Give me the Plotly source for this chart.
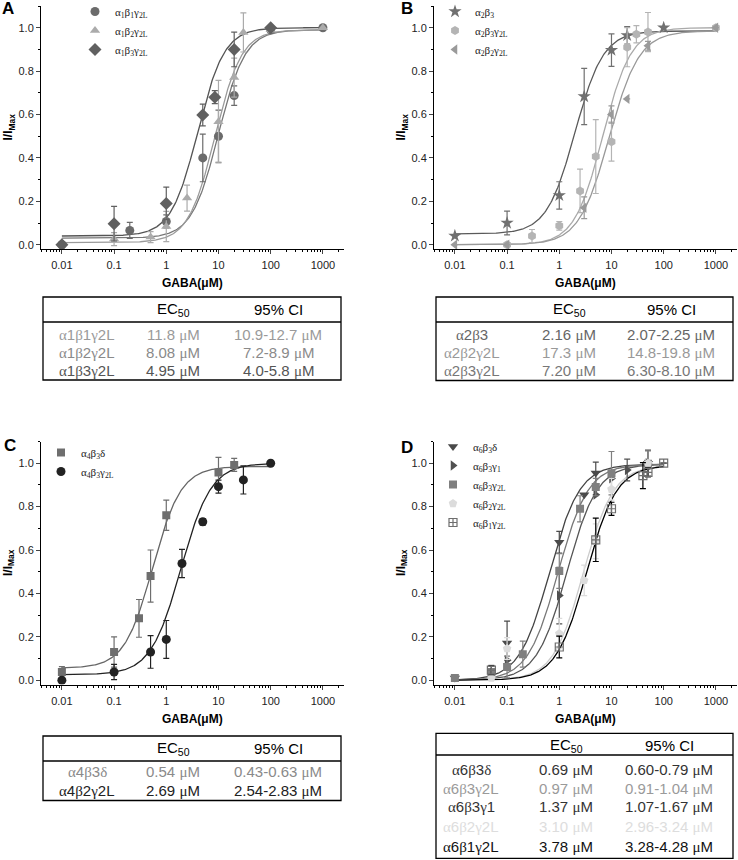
import numpy as np
import plotly.graph_objects as go

W, H = 738, 860

# ---- panel A : alpha1 receptors ----
a1b1_x = [0.01, 0.2, 1, 5, 10, 20, 100, 1000]
a1b1_y = [0.0, 0.066, 0.107, 0.40, 0.50, 0.687, 0.99, 1.0]
a1b1_e = [0.0, 0.037, 0.03, 0.11, 0.12, 0.045, 0.01, 0.0]
a1b2_x = [0.1, 0.5, 1, 2.5, 10, 20, 30, 100, 1000]
a1b2_y = [0.026, 0.035, 0.084, 0.215, 0.567, 0.77, 0.978, 0.99, 1.0]
a1b2_e = [0.03, 0.025, 0.07, 0.06, 0.19, 0.09, 0.09, 0.01, 0.0]
a1b3_x = [0.01, 0.1, 1, 5, 8.5, 20, 100]
a1b3_y = [0.0, 0.097, 0.19, 0.598, 0.68, 0.90, 1.0]
a1b3_e = [0.0, 0.08, 0.075, 0.05, 0.03, 0.08, 0.0]

# ---- panel B : alpha2 receptors ----
a2b3_x = [0.01, 0.1, 1, 3, 10, 20, 100]
a2b3_y = [0.041, 0.10, 0.227, 0.683, 0.897, 0.965, 1.0]
a2b3_e = [0.0, 0.055, 0.063, 0.13, 0.075, 0.04, 0.0]
a2b3g_x = [0.1, 0.3, 1, 2.5, 5, 10, 20, 30, 50, 1000]
a2b3g_y = [0.0, 0.04, 0.087, 0.248, 0.406, 0.475, 0.91, 0.97, 0.98, 1.0]
a2b3g_e = [0.0, 0.03, 0.02, 0.1, 0.17, 0.09, 0.09, 0.04, 0.09, 0.0]
a2b2g_x = [0.01, 0.1, 3, 10, 20, 50, 1000]
a2b2g_y = [0.0, 0.0, 0.17, 0.60, 0.672, 0.917, 1.0]
a2b2g_e = [0.0, 0.0, 0.05, 0.04, 0.0, 0.02, 0.0]

# ---- panel C : alpha4 receptors ----
a4d_x = [0.01, 0.1, 0.3, 0.5, 1, 10, 20]
a4d_y = [0.038, 0.13, 0.285, 0.48, 0.76, 0.957, 0.992]
a4d_e = [0.025, 0.07, 0.087, 0.12, 0.07, 0.07, 0.03]
a4g_x = [0.01, 0.1, 0.5, 1, 2, 5, 10, 30, 100]
a4g_y = [0.0, 0.038, 0.13, 0.188, 0.538, 0.73, 0.892, 0.923, 1.0]
a4g_e = [0.0, 0.035, 0.075, 0.087, 0.065, 0.015, 0.03, 0.065, 0.0]

# ---- panel D : alpha6 receptors ----
a6d_x = [0.01, 0.1, 1, 3, 5, 50]
a6d_y = [0.01, 0.172, 0.636, 0.855, 0.955, 1.0]
a6d_e = [0.0, 0.1, 0.05, 0.0, 0.05, 0.06]
a6g1_x = [0.1, 1, 5, 10, 20, 50]
a6g1_y = [0.092, 0.39, 0.855, 0.93, 0.969, 1.0]
a6g1_e = [0.0, 0.13, 0.0, 0.0, 0.05, 0.0]
a6g2_x = [0.01, 0.05, 0.1, 0.2, 1, 2.5, 5, 10, 50]
a6g2_y = [0.01, 0.038, 0.061, 0.12, 0.503, 0.79, 0.89, 0.954, 0.997]
a6g2_e = [0.0, 0.03, 0.05, 0.06, 0.08, 0.06, 0.04, 0.1, 0.06]
a6b2_x = [0.05, 0.1, 1, 3, 5, 10, 50]
a6b2_y = [0.01, 0.146, 0.215, 0.46, 0.64, 0.88, 1.0]
a6b2_e = [0.0, 0.05, 0.07, 0.07, 0.08, 0.05, 0.0]
a6b1_x = [0.05, 1, 5, 10, 40, 50, 100]
a6b1_y = [0.046, 0.153, 0.647, 0.79, 0.943, 0.958, 1.0]
a6b1_e = [0.02, 0.05, 0.1, 0.03, 0.06, 0.02, 0.0]

# fitted Hill curves: bottom, top, EC50, slope
fit_a = [(0.03, 0.99, 10.0, 1.7), (0.01, 0.99, 8.6, 1.7), (0.04, 1.0, 4.0, 1.7)]
fit_b = [(0.05, 0.985, 2.0, 1.6), (0.0, 1.0, 6.8, 1.6), (0.0, 0.985, 9.0, 1.5)]
fit_c = [(0.055, 0.985, 0.55, 1.6), (0.025, 1.0, 1.9, 1.5)]
fit_d = [(0.0, 0.995, 0.65, 1.5), (0.0, 0.995, 1.4, 1.5), (0.0, 0.995, 0.95, 1.5),
         (0.0, 0.99, 2.9, 1.5), (0.0, 0.99, 3.3, 1.5)]

# tables
tab_a_names = ["α1β1γ2L", "α1β2γ2L", "α1β3γ2L"]
tab_a_ec50 = ["11.8 μM", "8.08 μM", "4.95 μM"]
tab_a_ci = ["10.9-12.7 μM", "7.2-8.9 μM", "4.0-5.8 μM"]
tab_b_names = ["α2β3", "α2β2γ2L", "α2β3γ2L"]
tab_b_ec50 = ["2.16 μM", "17.3 μM", "7.20 μM"]
tab_b_ci = ["2.07-2.25 μM", "14.8-19.8 μM", "6.30-8.10 μM"]
tab_c_names = ["α4β3δ", "α4β2γ2L"]
tab_c_ec50 = ["0.54 μM", "2.69 μM"]
tab_c_ci = ["0.43-0.63 μM", "2.54-2.83 μM"]
tab_d_names = ["α6β3δ", "α6β3γ2L", "α6β3γ1", "α6β2γ2L", "α6β1γ2L"]
tab_d_ec50 = ["0.69 μM", "0.97 μM", "1.37 μM", "3.10 μM", "3.78 μM"]
tab_d_ci = ["0.60-0.79 μM", "0.91-1.04 μM", "1.07-1.67 μM", "2.96-3.24 μM", "3.28-4.28 μM"]

x_ticks = [0.01, 0.1, 1, 10, 100, 1000]
x_tick_text = ["0.01", "0.1", "1", "10", "100", "1000"]


def px(x):
    return x / W


def py(y):
    return 1 - y / H


def hill(x, bottom, top, ec50, n):
    return bottom + (top - bottom) / (1 + (ec50 / x) ** n)


def greek(s):
    # greek letters drawn in a serif face like the original
    out = ""
    for ch in s:
        if ch in "αβγδμ":
            out += '<span style="font-family:Liberation Serif">' + ch + "</span>"
        else:
            out += ch
    return out


def note(text, x, y, size, color="black", family="Arial", xanchor="center", angle=0):
    return dict(text=text, x=px(x), y=py(y), xref="paper", yref="paper",
                showarrow=False, xanchor=xanchor, yanchor="middle", textangle=angle,
                font=dict(family=family, size=size, color=color))


panels = [
    dict(ax="", letter="A", letter_xy=(0, 9), left=41, top=6, curve_max=1000, legend_xy=(75, -3),
         series=[
             (a1b1_x, a1b1_y, a1b1_e, "circle", 9, "#6b6b6b", "#777777", "α<sub>1</sub>β<sub>1</sub>γ<sub>2L</sub>", fit_a[0]),
             (a1b2_x, a1b2_y, a1b2_e, "triangle-up", 9, "#ababab", "#9a9a9a", "α<sub>1</sub>β<sub>2</sub>γ<sub>2L</sub>", fit_a[1]),
             (a1b3_x, a1b3_y, a1b3_e, "diamond", 10, "#606060", "#555555", "α<sub>1</sub>β<sub>3</sub>γ<sub>2L</sub>", fit_a[2]),
         ],
         table=dict(left=43, right=341, top=297, hline=322, bottom=380, head_y=309,
                    rows_y=[334, 352.5, 370.5], cols=[87, 173, 278],
                    colors=["#9a9a9a", "#8a8a8a", "#555555"],
                    cells=(tab_a_names, tab_a_ec50, tab_a_ci))),
    dict(ax="2", letter="B", letter_xy=(399, 9), left=434, top=6, curve_max=1000, legend_xy=(435, -3),
         series=[
             (a2b3_x, a2b3_y, a2b3_e, "star", 10, "#707070", "#5a5a5a", "α<sub>2</sub>β<sub>3</sub>", fit_b[0]),
             (a2b3g_x, a2b3g_y, a2b3g_e, "hexagon", 9, "#b4b4b4", "#aaaaaa", "α<sub>2</sub>β<sub>3</sub>γ<sub>2L</sub>", fit_b[1]),
             (a2b2g_x, a2b2g_y, a2b2g_e, "triangle-left", 9, "#9a9a9a", "#999999", "α<sub>2</sub>β<sub>2</sub>γ<sub>2L</sub>", fit_b[2]),
         ],
         table=dict(left=436, right=733, top=297, hline=322, bottom=380.5, head_y=309,
                    rows_y=[334, 352.5, 370.5], cols=[472, 569, 671],
                    colors=["#666666", "#999999", "#777777"],
                    cells=(tab_b_names, tab_b_ec50, tab_b_ci))),
    dict(ax="3", letter="C", letter_xy=(2, 445), left=41, top=441.5, curve_max=100, legend_xy=(41, 438),
         series=[
             (a4d_x, a4d_y, a4d_e, "square", 8, "#6e6e6e", "#666666", "α<sub>4</sub>β<sub>3</sub>δ", fit_c[0]),
             (a4g_x, a4g_y, a4g_e, "circle", 9, "#222222", "#222222", "α<sub>4</sub>β<sub>3</sub>γ<sub>2L</sub>", fit_c[1]),
         ],
         table=dict(left=43, right=341, top=736, hline=761, bottom=800.5, head_y=748,
                    rows_y=[771.7, 790.7], cols=[87, 173, 278],
                    colors=["#8a8a8a", "#222222"],
                    cells=(tab_c_names, tab_c_ec50, tab_c_ci))),
    dict(ax="4", letter="D", letter_xy=(399, 447), left=434, top=441.5, curve_max=100, legend_xy=(433, 432),
         series=[
             (a6d_x, a6d_y, a6d_e, "triangle-down", 9, "#4a4a4a", "#444444", "α<sub>6</sub>β<sub>3</sub>δ", fit_d[0]),
             (a6g1_x, a6g1_y, a6g1_e, "triangle-right", 9, "#505050", "#555555", "α<sub>6</sub>β<sub>3</sub>γ<sub>1</sub>", fit_d[1]),
             (a6g2_x, a6g2_y, a6g2_e, "square", 8, "#7f7f7f", "#777777", "α<sub>6</sub>β<sub>3</sub>γ<sub>2L</sub>", fit_d[2]),
             (a6b2_x, a6b2_y, a6b2_e, "pentagon", 9, "#dcdcdc", "#cccccc", "α<sub>6</sub>β<sub>2</sub>γ<sub>2L</sub>", fit_d[3]),
             (a6b1_x, a6b1_y, a6b1_e, "square-cross-open", 8, "#6e6e6e", "#000000", "α<sub>6</sub>β<sub>1</sub>γ<sub>2L</sub>", fit_d[4]),
         ],
         table=dict(left=436, right=733, top=733.3, hline=755, bottom=858.3, head_y=745,
                    rows_y=[769.3, 788.3, 806.7, 826, 846], cols=[471, 566, 669],
                    colors=["#333333", "#9a9a9a", "#333333", "#dddddd", "#111111"],
                    cells=(tab_d_names, tab_d_ec50, tab_d_ci))),
]

X_RANGE = [-2.4, 3.4]
Y_RANGE = [-0.02, 1.1]
DEC = 52.2       # px per decade
UNIT = 217.0     # px per 1.0 on y

fig = go.Figure()
annotations = []
shapes = []
layout = {}

for k, p in enumerate(panels):
    ax = p["ax"]
    xname, yname = "x" + ax, "y" + ax
    leg = "legend" + ax
    left = p["left"]
    right = left + DEC * (X_RANGE[1] - X_RANGE[0])
    top = p["top"]
    bottom = top + UNIT * (Y_RANGE[1] - Y_RANGE[0])

    xc = np.logspace(-2, np.log10(p["curve_max"]), 300)
    for sx, sy, se, sym, size, col, lcol, name, prm in p["series"]:
        fig.add_trace(go.Scatter(x=xc, y=hill(xc, *prm), mode="lines",
                                 line=dict(color=lcol, width=1.3),
                                 xaxis=xname, yaxis=yname, showlegend=False,
                                 hoverinfo="skip"))
    for sx, sy, se, sym, size, col, lcol, name, prm in p["series"]:
        ecol = "#000000" if sym == "square-cross-open" else col
        fig.add_trace(go.Scatter(x=sx, y=sy, mode="markers", name=name,
                                 marker=dict(symbol=sym, size=size, color=col,
                                             line=dict(width=1.2 if sym.endswith("open") else 0, color=col)),
                                 error_y=dict(type="data", array=se, color=ecol,
                                              thickness=1.2, width=3),
                                 xaxis=xname, yaxis=yname, legend=leg))

    tick_font = dict(family="Arial", size=11, color="#222222")
    layout["xaxis" + ax] = dict(
        type="log", range=X_RANGE, domain=[left / W, right / W], anchor=yname,
        automargin=False, ticklabelstandoff=2,
        tickvals=x_ticks, ticktext=x_tick_text, ticks="outside", ticklen=4,
        tickwidth=1, showline=True, linecolor="black", linewidth=1,
        showgrid=False, zeroline=False, tickfont=tick_font,
        minor=dict(ticks="outside", ticklen=2, dtick="D1", tickcolor="black",
                   showgrid=False))
    layout["yaxis" + ax] = dict(
        range=Y_RANGE, domain=[py(bottom), py(top)], anchor=xname,
        automargin=False,
        tickvals=[0, 0.2, 0.4, 0.6, 0.8, 1.0], tickformat=".1f",
        ticks="outside", ticklen=4, tickwidth=1, showline=True,
        linecolor="black", linewidth=1, showgrid=False, zeroline=False,
        tickfont=tick_font,
        minor=dict(ticks="outside", ticklen=2, dtick=0.1, tickcolor="black",
                   showgrid=False))
    lx, ly = p["legend_xy"]
    layout[leg] = dict(x=px(lx), y=py(ly), xanchor="left", yanchor="top",
                       bgcolor="rgba(0,0,0,0)", itemwidth=30, tracegroupgap=0,
                       font=dict(family="Liberation Serif", size=11, color="#222222"))

    # panel letter and axis titles
    lx, ly = p["letter_xy"]
    annotations.append(note("<b>" + p["letter"] + "</b>", lx, ly, 17, xanchor="left"))
    annotations.append(note("<b>I/I<sub>Max</sub></b>", left - 32, (top + bottom) / 2, 12, angle=-90))
    annotations.append(note("<b>GABA(μM)</b>", (left + right) / 2, bottom + 34, 12))

    # table under each plot
    t = p["table"]
    shapes.append(dict(type="rect", xref="paper", yref="paper",
                       x0=px(t["left"]), x1=px(t["right"]), y0=py(t["bottom"]), y1=py(t["top"]),
                       line=dict(color="black", width=1.3)))
    shapes.append(dict(type="line", xref="paper", yref="paper",
                       x0=px(t["left"]), x1=px(t["right"]), y0=py(t["hline"]), y1=py(t["hline"]),
                       line=dict(color="black", width=1.3)))
    for txt, cx in zip(["EC<sub>50</sub>", "95% CI"], t["cols"][1:]):
        annotations.append(note(txt, cx, t["head_y"], 15))
    names, ec50s, cis = t["cells"]
    for i, ry in enumerate(t["rows_y"]):
        for txt, cx in zip([names[i], ec50s[i], cis[i]], t["cols"]):
            annotations.append(note(greek(txt), cx, ry, 15, color=t["colors"][i]))

fig.update_layout(
    width=W, height=H, margin=dict(l=0, r=0, t=0, b=0, autoexpand=False),
    paper_bgcolor="white", plot_bgcolor="white",
    annotations=annotations, shapes=shapes, **layout)

# the page opens with the browser's default 8px body margin; drop it
fig.write_html("out.html", config={"displayModeBar": False},
               post_script="document.body.style.margin='0';")
